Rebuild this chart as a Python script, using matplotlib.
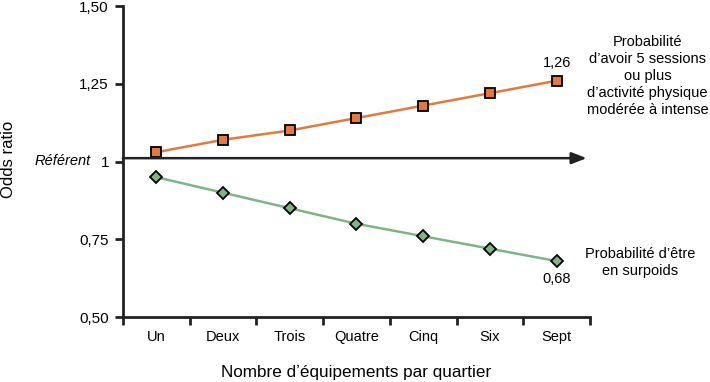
import matplotlib
matplotlib.use("Agg")
import matplotlib.pyplot as plt
from matplotlib.ticker import FixedLocator

plt.rcParams['font.family'] = ['Liberation Sans', 'DejaVu Sans']

categories = ["Un", "Deux", "Trois", "Quatre", "Cinq", "Six", "Sept"]
activite = [1.03, 1.07, 1.10, 1.14, 1.18, 1.22, 1.26]
surpoids = [0.95, 0.90, 0.85, 0.80, 0.76, 0.72, 0.68]
yticks = [0.50, 0.75, 1.0, 1.25, 1.50]
ytick_labels = ["0,50", "0,75", "1", "1,25", "1,50"]

orange = "#E07A3E"
green = "#7DB587"
dark = "#222222"

fig = plt.figure(figsize=(7.1, 3.82), dpi=100)
ax = fig.add_axes([0.173, 0.170, 0.658, 0.814])
x = list(range(len(categories)))

ax.plot(x, activite, color=orange, lw=1.8, marker="s", ms=7,
        mfc=orange, mec="black", mew=1.3, zorder=3)
ax.plot(x, surpoids, color=green, lw=1.8, marker="D", ms=6.5,
        mfc=green, mec="black", mew=1.3, zorder=3)

ax.set_xlim(-0.5, 6.5)
ax.set_ylim(0.5, 1.5)

# reference arrow
ax.annotate("", xy=(6.45, 1.011), xytext=(-0.5, 1.011),
            xycoords="data", annotation_clip=False,
            arrowprops=dict(arrowstyle="-|>,head_length=0.9,head_width=0.35",
                            color=dark, lw=1.8, shrinkA=0, shrinkB=0))

for s in ["top", "right"]:
    ax.spines[s].set_visible(False)
for s in ["left", "bottom"]:
    ax.spines[s].set_linewidth(2)
    ax.spines[s].set_color(dark)

ax.set_yticks(yticks)
ax.set_yticklabels(ytick_labels, fontsize=11)
ax.tick_params(axis="y", length=6, width=2, color=dark, pad=4)

ax.set_xticks(x)
ax.set_xticklabels(categories, fontsize=10.5)
ax.tick_params(axis="x", which="major", length=0, pad=9)
ax.xaxis.set_minor_locator(FixedLocator([i - 0.5 for i in range(len(categories) + 1)]))
ax.tick_params(axis="x", which="minor", length=6, width=2, color=dark)

ax.set_xlabel("Nombre d\u2019équipements par quartier", fontsize=12.3)
ax.xaxis.set_label_coords(0.5, -55 / 311, transform=ax.transAxes)
ax.xaxis.label.set_va("center")
ax.set_ylabel("Odds ratio", fontsize=12)
ax.yaxis.set_label_coords(9 / 710, 1 - 159 / 382, transform=fig.transFigure)
ax.yaxis.label.set_va("center")

fig.text(91 / 710, 1 - 161 / 382, "Référent", style="italic", fontsize=10.5,
         ha="right", va="center")

ax.annotate("1,26", xy=(6, activite[-1]), xytext=(0, 8), textcoords="offset points",
            ha="center", va="bottom", fontsize=10.5)
ax.annotate("0,68", xy=(6, surpoids[-1]), xytext=(0, -8), textcoords="offset points",
            ha="center", va="top", fontsize=10.5)

fig.text(0.912, 0.80, "Probabilité\nd\u2019avoir 5 sessions\nou plus\nd\u2019activité physique\nmodérée à intense",
         ha="center", va="center", fontsize=10.5, linespacing=1.27)
fig.text(0.901, 0.314, "Probabilité d\u2019être\nen surpoids",
         ha="center", va="center", fontsize=10.5, linespacing=1.27)

fig.savefig("out.png", dpi=100)
